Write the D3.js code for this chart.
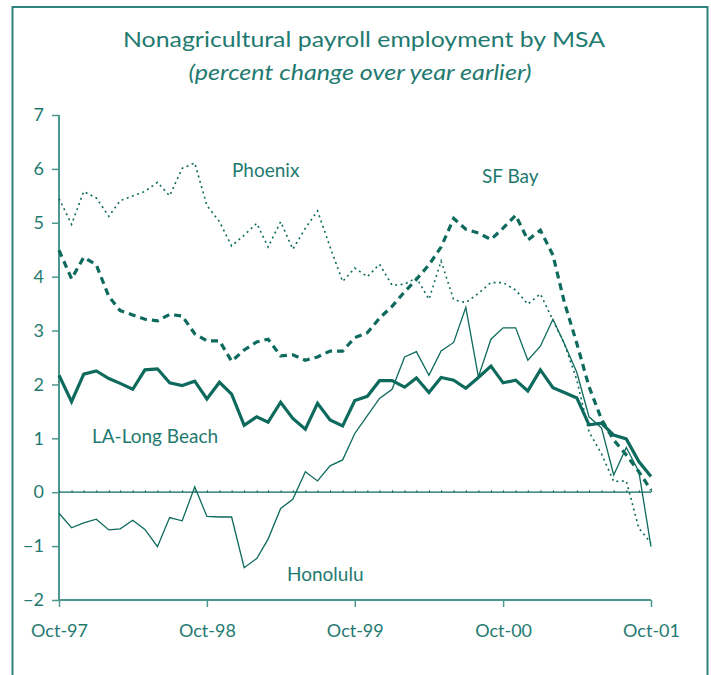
<!DOCTYPE html>
<html>
<head>
<meta charset="utf-8">
<script src="https://cdn.jsdelivr.net/npm/d3@7"></script>
<style>
  body { margin: 0; background: #fff; }
  svg text { font-family: Lato, "Open Sans", sans-serif; fill: #1f7a70; }
</style>
</head>
<body>
<div id="chart"></div>
<script>
// Define constants
const WIDTH = 711;
const HEIGHT = 675;
const LINE_COLOR = "#0d6a5d";
const AXIS_COLOR = "#4c978f";

// Monthly observations, Oct-97 .. Oct-01
const START_MONTH = new Date(1997, 9, 1);
const END_MONTH = new Date(2001, 9, 1);
const months = d3.timeMonth.range(START_MONTH, d3.timeMonth.offset(END_MONTH, 1));

const xTickLabels = ["Oct-97", "Oct-98", "Oct-99", "Oct-00", "Oct-01"];
const yTicks = [-2, -1, 0, 1, 2, 3, 4, 5, 6, 7];

const laLongBeach = [2.17, 1.68, 2.19, 2.25, 2.11, 2.02, 1.91, 2.27, 2.29, 2.03, 1.98, 2.06, 1.73,
  2.04, 1.82, 1.24, 1.40, 1.30, 1.67, 1.37, 1.17, 1.65, 1.34, 1.23, 1.70,
  1.78, 2.07, 2.07, 1.95, 2.12, 1.85, 2.13, 2.08, 1.93, 2.13, 2.34, 2.03,
  2.08, 1.88, 2.27, 1.94, 1.85, 1.75, 1.25, 1.28, 1.06, 0.99, 0.57, 0.29];

const honolulu = [-0.39, -0.66, -0.57, -0.50, -0.70, -0.68, -0.52, -0.69, -1.01, -0.47, -0.53, 0.10, -0.45,
  -0.46, -0.46, -1.40, -1.23, -0.87, -0.30, -0.13, 0.38, 0.21, 0.49, 0.60, 1.09,
  1.42, 1.74, 1.91, 2.51, 2.61, 2.17, 2.62, 2.78, 3.43, 2.14, 2.84, 3.05,
  3.05, 2.45, 2.71, 3.21, 2.76, 2.22, 1.40, 1.19, 0.32, 0.83, 0.38, -1.01];

const phoenix = [5.45, 4.97, 5.58, 5.46, 5.12, 5.41, 5.50, 5.58, 5.75, 5.50, 6.01, 6.11, 5.32,
  5.02, 4.57, 4.77, 4.99, 4.55, 5.02, 4.51, 4.90, 5.22, 4.55, 3.91, 4.16,
  4.00, 4.23, 3.84, 3.86, 3.98, 3.58, 4.29, 3.57, 3.52, 3.69, 3.89, 3.89,
  3.75, 3.49, 3.68, 3.19, 2.76, 2.08, 1.12, 0.71, 0.20, 0.21, -0.67, -0.94];

const sfBay = [4.49, 3.96, 4.36, 4.22, 3.63, 3.37, 3.29, 3.21, 3.18, 3.30, 3.27, 2.94, 2.81,
  2.81, 2.43, 2.64, 2.79, 2.84, 2.53, 2.55, 2.45, 2.51, 2.62, 2.62, 2.87,
  2.96, 3.23, 3.45, 3.72, 3.95, 4.22, 4.55, 5.08, 4.88, 4.81, 4.69, 4.90,
  5.14, 4.68, 4.86, 4.40, 3.53, 2.76, 1.96, 1.35, 0.97, 0.69, 0.38, 0.04];

// Series styles and label placement
const seriesList = [
  { name: "Honolulu", values: honolulu, width: 1.3, dash: null, label: [287, 581] },
  { name: "Phoenix", values: phoenix, width: 1.6, dash: "2,3.5", label: [232, 177] },
  { name: "SF Bay", values: sfBay, width: 3.2, dash: "7,5", label: [482, 183] },
  { name: "LA-Long Beach", values: laLongBeach, width: 3.2, dash: null, label: [92, 443] }
];

const svg = d3.select("#chart")
  .append("svg")
  .attr("width", WIDTH)
  .attr("height", HEIGHT);

// Outer frame
svg.append("rect")
  .attr("x", 12.5).attr("y", 7)
  .attr("width", 695).attr("height", 720)
  .attr("fill", "none")
  .attr("stroke", "#2f837a")
  .attr("stroke-width", 2);

// Titles
svg.append("text")
  .attr("x", 364).attr("y", 47)
  .attr("text-anchor", "middle")
  .attr("textLength", 482)
  .attr("lengthAdjust", "spacingAndGlyphs")
  .style("font-size", "22px")
  .text("Nonagricultural payroll employment by MSA");

svg.append("text")
  .attr("x", 360).attr("y", 80)
  .attr("text-anchor", "middle")
  .attr("textLength", 343)
  .attr("lengthAdjust", "spacingAndGlyphs")
  .style("font-size", "22px")
  .style("font-style", "italic")
  .text("(percent change over year earlier)");

// Scales
const x = d3.scaleTime()
  .domain([START_MONTH, END_MONTH])
  .range([59, 651]);

const y = d3.scaleLinear()
  .domain([-2, 7])
  .range([600, 115]);

// Y axis
const yAxis = svg.append("g")
  .attr("transform", "translate(59,0)")
  .call(d3.axisLeft(y).tickValues(yTicks).tickFormat(d3.format("d")).tickSize(7).tickPadding(8));

// X axis at -2
const yearTicks = xTickLabels.map(s => d3.timeParse("%b-%y")(s));
const xAxis = svg.append("g")
  .attr("transform", `translate(0,${y(-2)})`)
  .call(d3.axisBottom(x).tickValues(yearTicks).tickFormat(d3.timeFormat("%b-%y")).tickSize(7).tickPadding(17));

[yAxis, xAxis].forEach(g => {
  g.select(".domain").attr("stroke", AXIS_COLOR).attr("stroke-width", 2);
  g.selectAll(".tick line").attr("stroke", AXIS_COLOR).attr("stroke-width", 1.5);
  g.selectAll(".tick text")
    .attr("fill", "#1f7a70")
    .style("font-family", "Lato, 'Open Sans', sans-serif")
    .style("font-size", "18px");
});
xAxis.select(".domain").attr("d", `M${x.range()[0]},0H${x.range()[1]}`);
yAxis.select(".domain").attr("d", `M0,${y.range()[0]}V${y.range()[1]}`);

// Zero line with monthly minor ticks
const zero = svg.append("g")
  .attr("transform", `translate(0,${y(0)})`)
  .call(d3.axisTop(x).tickValues(months).tickFormat("").tickSize(2));
zero.select(".domain").attr("d", `M${x.range()[0]},0H${x.range()[1]}`)
  .attr("stroke", LINE_COLOR).attr("stroke-width", 1.3);
zero.selectAll(".tick line").attr("stroke", LINE_COLOR).attr("stroke-width", 1);

// Lines
const line = d3.line()
  .x((d, i) => x(months[i]))
  .y(d => y(d));

svg.selectAll("path.series")
  .data(seriesList)
  .enter()
  .append("path")
  .attr("class", "series")
  .attr("d", d => line(d.values))
  .attr("fill", "none")
  .attr("stroke", LINE_COLOR)
  .attr("stroke-width", d => d.width)
  .attr("stroke-dasharray", d => d.dash)
  .attr("stroke-linejoin", "miter");

// Series labels
svg.selectAll("text.series-label")
  .data(seriesList)
  .enter()
  .append("text")
  .attr("class", "series-label")
  .attr("x", d => d.label[0])
  .attr("y", d => d.label[1])
  .style("font-size", "19px")
  .text(d => d.name);
</script>
</body>
</html>
